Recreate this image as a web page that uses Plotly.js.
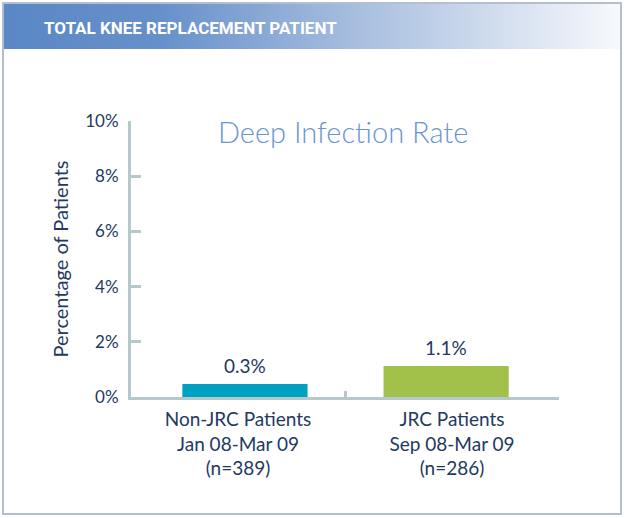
<!DOCTYPE html>
<html>
<head>
<meta charset="utf-8">
<script src="https://cdn.plot.ly/plotly-3.0.1.min.js"></script>
<style>
html,body{margin:0;padding:0;background:#fff;}
#chart{width:624px;height:518px;}
</style>
</head>
<body>
<div id="chart"></div>
<script>
// ---- data ----
var categories = ["Non-JRC Patients<br>Jan 08-Mar 09<br>(n=389)", "JRC Patients<br>Sep 08-Mar 09<br>(n=286)"];
var barHeights = [0.47, 1.12];          // bar heights as drawn in the picture (% of patients)
var valueLabels = ["0.3%", "1.1%"];     // printed value labels
var barColors = ["#00a0c1", "#a1c14b"];
var yTickVals = [0, 2, 4, 6, 8, 10];
var yTickText = ["0%", "2%", "4%", "6%", "8%", "10%"];
var headerText = "TOTAL KNEE REPLACEMENT PATIENT";
var chartTitle = "Deep Infection Rate";
var yAxisTitle = "Percentage of Patients";

var navy = "#233961";
var axisColor = "#b5c9cd";
var font = "Lato, 'Open Sans', sans-serif";

var gradSvg = '<svg xmlns="http://www.w3.org/2000/svg" width="618" height="46">' +
  '<defs><linearGradient id="g" x1="0" y1="0" x2="1" y2="0">' +
  '<stop offset="0" stop-color="#5a87c6"/><stop offset="0.25" stop-color="#6690ca"/>' +
  '<stop offset="0.55" stop-color="#a3bbdd"/><stop offset="1" stop-color="#f7f9fc"/>' +
  '</linearGradient></defs><rect width="618" height="46" fill="url(#g)"/></svg>';
var gradUri = "data:image/svg+xml;base64," + btoa(gradSvg);

var W = 624, H = 518;
var mL = 131, mR = 65, mT = 121, mB = 121;
var pw = W - mL - mR, ph = H - mT - mB;
function px(x){ return (x - mL) / pw; }
function py(y){ return (H - mB - y) / ph; }

var trace = {
  type: "bar",
  x: categories,
  y: barHeights,
  marker: {color: barColors, line: {width: 0}},
  hoverinfo: "skip",
  width: 0.585,
  offset: [-0.26, -0.32]
};

var annotations = categories.map(function(c, i){
  return {
    x: c, y: barHeights[i], xref: "x", yref: "y",
    xshift: i === 0 ? 7 : -6,
    text: valueLabels[i], showarrow: false,
    yanchor: "middle", yshift: 19,
    font: {family: font, size: 19, color: navy}
  };
});
annotations.push({
  x: px(343), y: py(131), xref: "paper", yref: "paper",
  text: chartTitle, showarrow: false, xanchor: "center", yanchor: "middle",
  font: {family: font, size: 29, color: "#6a94d2", weight: 300}
});
annotations.push({
  x: px(42), y: py(28), xref: "paper", yref: "paper",
  text: "<b>" + headerText + "</b>", showarrow: false, xanchor: "left", yanchor: "middle",
  font: {family: "Roboto, Lato, sans-serif", size: 17, color: "#ffffff"}
});

var layout = {
  width: W, height: H,
  margin: {l: mL, r: mR, t: mT, b: mB, pad: 0},
  paper_bgcolor: "#ffffff",
  plot_bgcolor: "rgba(0,0,0,0)",
  showlegend: false,
  bargap: 0.415,
  xaxis: {
    type: "category",
    showline: true, linecolor: axisColor, linewidth: 3,
    ticks: "inside", tickson: "boundaries", ticklen: 6, tickwidth: 3, tickcolor: axisColor,
    showgrid: false, zeroline: false,
    tickfont: {family: font, size: 19, color: navy},
    ticklabelstandoff: 3,
    fixedrange: true
  },
  yaxis: {
    range: [0, 10],
    tickvals: yTickVals, ticktext: yTickText,
    showline: true, linecolor: axisColor, linewidth: 3,
    ticks: "inside", ticklen: 10, tickwidth: 3, tickcolor: axisColor,
    showgrid: false, zeroline: false,
    tickfont: {family: font, size: 17, color: navy},
    ticklabelstandoff: 6,
    title: {text: yAxisTitle, font: {family: font, size: 20, color: navy}, standoff: 12},
    fixedrange: true
  },
  images: [{
    source: gradUri, xref: "paper", yref: "paper",
    x: px(3), y: py(3), sizex: 618 / pw, sizey: 46 / ph,
    xanchor: "left", yanchor: "top", sizing: "stretch", layer: "below"
  }],
  shapes: [{
    type: "rect", xref: "paper", yref: "paper",
    x0: px(3), x1: px(621), y0: py(3), y1: py(514),
    line: {color: "#b3bfcd", width: 2}, fillcolor: "rgba(0,0,0,0)", layer: "below"
  }],
  annotations: annotations
};

Plotly.newPlot("chart", [trace], layout, {displayModeBar: false, staticPlot: true});
</script>
</body>
</html>
